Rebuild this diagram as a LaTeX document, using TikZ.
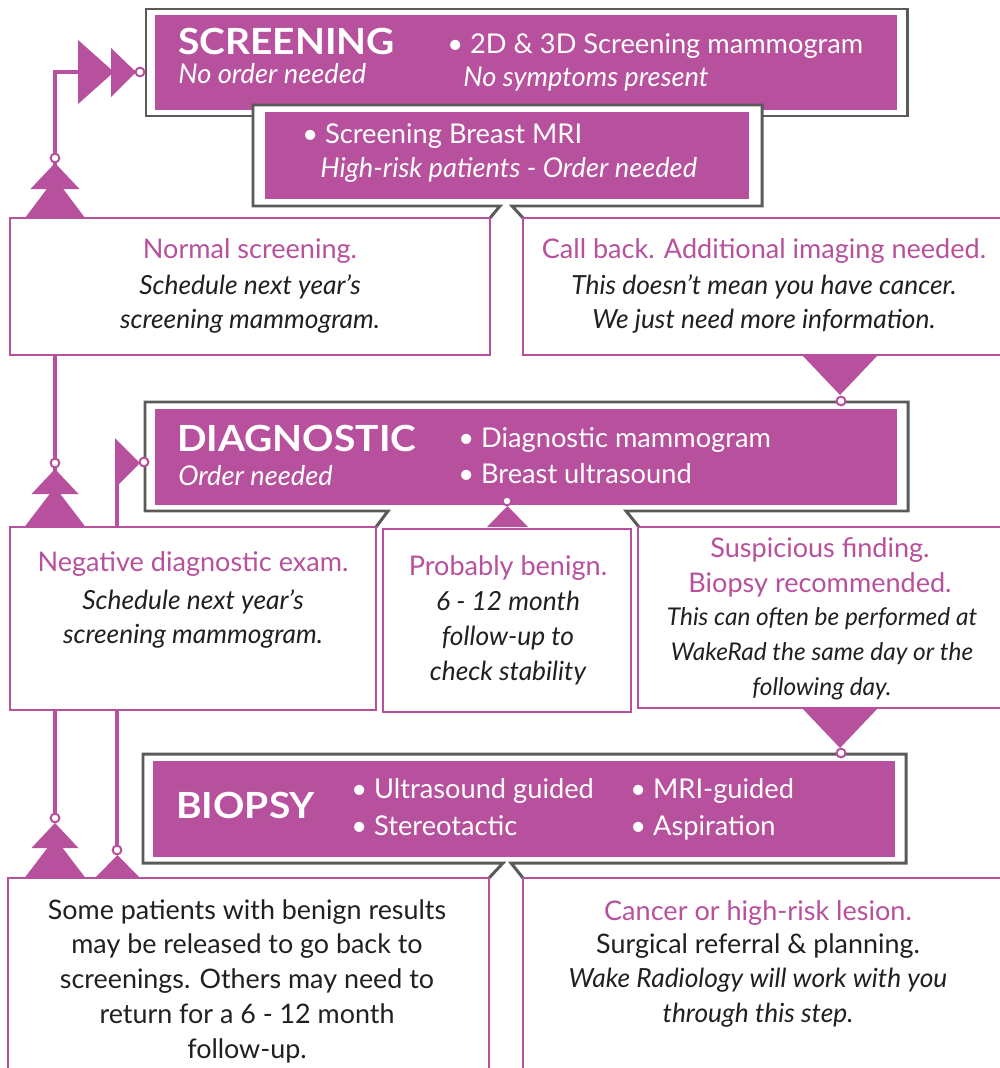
\documentclass[tikz,border=0pt]{standalone}
\usepackage{fontspec}
\setmainfont{Lato}
\newfontfamily\hdrfam[FakeStretch=1.08]{Lato}
\usetikzlibrary{fit}
\definecolor{mag}{HTML}{B8519D}
\definecolor{gry}{HTML}{5A5A5A}
\definecolor{ink}{HTML}{231F20}
\newcommand\mytriup[4]{\fill[mag] (#1-#2,#3) -- (#1+#2,#3) -- (#1,#4) -- cycle;}
\newcommand\mytridn[4]{\fill[mag] (#1-#2,#3) -- (#1+#2,#3) -- (#1,#4) -- cycle;}
\begin{document}
\begin{tikzpicture}[x=0.02cm,y=-0.02cm,
  gline/.style={draw=gry,line width=1.7pt},
  magin/.style={fill=mag,inner sep=0pt,draw=none},
  whitebg/.style={fill=white,inner sep=0pt,draw=none},
  wbox/.style={draw=mag,line width=1.5pt,fill=white,inner sep=0pt},
  conn/.style={draw=mag,line width=2.6pt},
  dot/.style={circle,draw=mag,fill=white,line width=1.13pt,minimum size=0.176cm,inner sep=0pt},
  hfont/.style={font=\fontsize{20.5pt}{24pt}\hdrfam\bfseries,text=white,inner sep=0pt},
  mfont/.style={font=\fontsize{15.5pt}{19.8pt}\selectfont,text=white,inner sep=0pt},
  mifont/.style={font=\fontsize{15.5pt}{19.8pt}\selectfont\itshape,text=white,inner sep=0pt},
  ttl/.style={font=\fontsize{15.4pt}{19.8pt}\selectfont,text=mag,align=center,inner sep=0pt},
  bodyi/.style={font=\fontsize{15pt}{19.8pt}\selectfont\itshape,text=ink,align=center,inner sep=0pt},
  bodyr/.style={font=\fontsize{15.3pt}{19.8pt}\selectfont,text=ink,align=center,inner sep=0pt},
  smalli/.style={font=\fontsize{13.9pt}{19.8pt}\selectfont\itshape,text=ink,align=center,inner sep=0pt}
]
\useasboundingbox (0,0) rectangle (1000,1068);

% ---------- connector lines (behind boxes)
\coordinate (L0) at (55,818);
\coordinate (L1) at (140,72);
\draw[conn] (L0) |- (L1);
\coordinate (M0) at (117,850);
\coordinate (M1) at (117,463);
\draw[conn] (M0) -- (M1);

% ---------- SCREENING
\node[fit={(146,9) (907,116)},inner sep=0pt,draw=gry,line width=1.7pt,fill=white] (scrOut) {};
\node[fit={(155,15) (897,110)},magin] (scrIn) {};
\node[fit={(253,105) (762,206)},whitebg] (mriOut) {};
\node[fit={(265,112) (749,199)},magin] (mriIn) {};
\draw[gline] (490,218) -- (500,206) -- (253,206) |- (762,105) |- (512,206) -- (523,218);

\node[hfont,anchor=base west] (scrT) at (178,55) {SCREENING};
\node[mifont,anchor=base west] (scrS) at (178,84) {No order needed};
\node[mfont,anchor=base west] (scrB) at (447,54) {• 2D \& 3D Screening mammogram};
\node[mifont,anchor=base west] (scrB2) at (463,87) {No symptoms present};
\node[mfont,anchor=base west] (mriB) at (302,143) {• Screening Breast MRI};
\node[mifont,anchor=base west] (mriB2) at (320,177) {High-risk patients - Order needed};

% ---------- row 1 boxes
\node[fit={(10,218) (490,355)},wbox] (normal) {};
\node[fit={(523,218) (1003,355)},wbox] (callback) {};
\node[ttl] (normalT) at (250,251) {Normal screening.};
\node[bodyi] (normalB) at (250,304) {Schedule next year’s\\screening mammogram.};
\node[ttl] (callT) at (764,251) {Call back. Additional imaging needed.};
\node[bodyi] (callB) at (764,304) {This doesn’t mean you have cancer.\\We just need more information.};

% ---------- DIAGNOSTIC
\node[fit={(145,402) (908,511)},whitebg] (diaOut) {};
\node[fit={(155,409) (897,505)},magin] (diaIn) {};
\draw[gline] (376,527) -- (388,511) -- (145,511) |- (908,402) |- (626,511) -- (639,527);
\node[hfont,anchor=base west] (diaT) at (177,451) {DIAGNOSTIC};
\node[mifont,anchor=base west] (diaS) at (178,485) {Order needed};
\node[mfont,anchor=base west] (diaB) at (458,447) {• Diagnostic mammogram};
\node[mfont,anchor=base west] (diaB2) at (458,483) {• Breast ultrasound};

% ---------- row 2 boxes
\node[fit={(10,527) (376,710)},wbox] (negative) {};
\node[fit={(383,529) (631,712)},wbox] (benign) {};
\node[fit={(638,527) (1003,708)},wbox] (susp) {};
\node[ttl] (negT) at (193,564) {Negative diagnostic exam.};
\node[bodyi] (negB) at (193,619) {Schedule next year’s\\screening mammogram.};
\node[ttl] (benT) at (508,568) {Probably benign.};
\node[bodyi] (benB) at (508,638) {6 - 12 month\\follow-up to\\check stability};
\node[ttl] (susT) at (820,567) {Suspicious finding.\\Biopsy recommended.};
\node[smalli] (susB) at (822,654) {This can often be performed at\\WakeRad the same day or the\\following day.};

% ---------- BIOPSY
\node[fit={(143,754) (906,863)},whitebg] (bioOut) {};
\node[fit={(153,761) (895,857)},magin] (bioIn) {};
\draw[gline] (489,878) -- (503,863) -- (143,863) |- (906,754) |- (511,863) -- (523,878);
\node[hfont,anchor=base west] (bioT) at (176,818) {BIOPSY};
\node[mfont,anchor=base west] (bioB1) at (351,798) {• Ultrasound guided};
\node[mfont,anchor=base west] (bioB2) at (351,835) {• Stereotactic};
\node[mfont,anchor=base west] (bioB3) at (630,798) {• MRI-guided};
\node[mfont,anchor=base west] (bioB4) at (630,835) {• Aspiration};

% ---------- row 3 boxes
\node[fit={(8,878) (489,1078)},wbox] (patients) {};
\node[fit={(523,878) (1003,1078)},wbox] (cancer) {};
\node[bodyr] (patB) at (247,981) {Some patients with benign results\\may be released to go back to\\screenings. Others may need to\\return for a 6 - 12 month\\follow-up.};
\node[ttl] (canT) at (758,913) {Cancer or high-risk lesion.};
\node[bodyr] (canB) at (758,946) {Surgical referral \& planning.};
\node[bodyi] (canB2) at (758,998) {Wake Radiology will work with you\\through this step.};

% ---------- arrow heads
% into screening (horizontal)
\fill[mag] (78,40) -- (78,104) -- (114,72) -- cycle;
\fill[mag] (111,48) -- (111,97) -- (136,72) -- cycle;
\node[dot] (d0) at (L1) {};
% from normal
\mytriup{55}{30}{218}{178}
\mytriup{55}{24.5}{189}{163}
\node[dot] (d1) at (55,158) {};
% from negative
\mytriup{55}{30.5}{527}{487}
\mytriup{55}{23.5}{494}{469}
\node[dot] (d2) at (55,463) {};
% from patients
\mytriup{55}{30.5}{878}{838}
\mytriup{55}{23.5}{848}{823}
\node[dot] (d3) at (L0) {};
\mytriup{117.5}{22.5}{878}{855}
\node[dot] (d4) at (M0) {};
% flag into diagnostic
\fill[mag] (115,438) -- (140,463) -- (115,488) -- cycle;
\node[dot] (d5) at (144,462) {};
% probably benign
\mytriup{507.5}{20.5}{527}{506}
\node[dot] (d6) at (507,501) {};
% call back -> diagnostic
\mytridn{840}{38}{355}{395}
\node[dot] (d7) at (841,401) {};
% suspicious -> biopsy
\mytridn{840}{38}{708}{748}
\node[dot] (d8) at (841,753) {};
\end{tikzpicture}
\end{document}
